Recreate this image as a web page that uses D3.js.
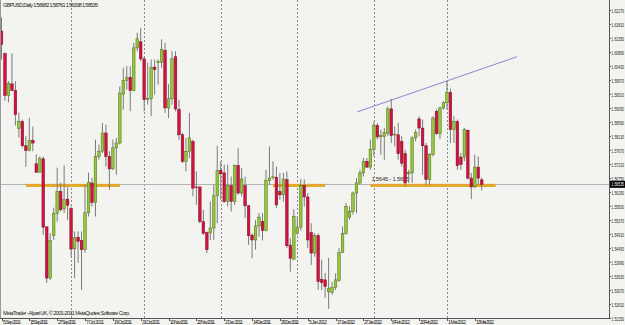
<!DOCTYPE html>
<html lang="en">
<head>
<meta charset="utf-8">
<title>GBPUSD Daily</title>
<script src="https://cdn.jsdelivr.net/npm/d3@7"></script>
<style>
  html, body { margin: 0; padding: 0; background: #f3f3ef; }
  svg { display: block; font-family: "Liberation Sans", Arial, sans-serif; }
</style>
</head>
<body>
<svg id="chart" width="625" height="325"></svg>
<script>
// daily bars, GBPUSD, 5 Sep 2011 .. 15 Mar 2012
const open = [1.6156,1.6082,1.5945,1.5983,1.5962,1.5836,1.5859,1.5780,1.5764,1.5798,
  1.5721,1.5693,1.5737,1.5514,1.5346,1.5485,1.5557,1.5630,1.5573,1.5605,
  1.5574,1.5442,1.5480,1.5469,1.5439,1.5560,1.5658,1.5594,1.5745,1.5762,
  1.5822,1.5745,1.5704,1.5773,1.5789,1.5948,1.5994,1.6005,1.5961,1.6101,
  1.6121,1.6065,1.5931,1.5934,1.6038,1.6053,1.6054,1.6093,1.5904,1.5934,
  1.6072,1.5899,1.5816,1.5729,1.5762,1.5794,1.5645,1.5645,1.5531,1.5495,
  1.5494,1.5510,1.5616,1.5699,1.5691,1.5597,1.5649,1.5597,1.5715,1.5625,
  1.5649,1.5583,1.5487,1.5471,1.5517,1.5531,1.5502,1.5666,1.5677,1.5677,
  1.5630,1.5619,1.5669,1.5454,1.5408,1.5493,1.5513,1.5649,1.5612,1.5495,
  1.5428,1.5485,1.5342,1.5340,1.5301,1.5298,1.5316,1.5338,1.5430,1.5493,
  1.5546,1.5564,1.5625,1.5658,1.5691,1.5729,1.5710,1.5767,1.5847,1.5809,
  1.5810,1.5820,1.5901,1.5816,1.5816,1.5794,1.5754,1.5688,1.5691,1.5806,
  1.5868,1.5838,1.5780,1.5669,1.5751,1.5893,1.5820,1.5904,1.5921,1.5955,
  1.5833,1.5860,1.5743,1.5743,1.5831,1.5674,1.5645,1.5710,1.56682];
const high = [1.6201,1.6086,1.5992,1.6083,1.5992,1.5889,1.5866,1.5811,1.5872,1.5843,
  1.5751,1.5745,1.5744,1.5515,1.5494,1.5577,1.5708,1.5659,1.5716,1.5646,
  1.5581,1.5499,1.5499,1.5499,1.5652,1.5692,1.5675,1.5800,1.5784,1.5855,
  1.5849,1.5762,1.5800,1.5806,1.5975,1.6036,1.6041,1.6041,1.6118,1.6151,
  1.6167,1.6074,1.6053,1.6063,1.6063,1.6063,1.6129,1.6118,1.5983,1.6090,
  1.6090,1.5931,1.5822,1.5806,1.5888,1.5800,1.5696,1.5646,1.5570,1.5499,
  1.5597,1.5652,1.5780,1.5729,1.5718,1.5718,1.5679,1.5718,1.5773,1.5707,
  1.5679,1.5586,1.5493,1.5537,1.5559,1.5559,1.5701,1.5778,1.5729,1.5712,
  1.5691,1.5691,1.5696,1.5477,1.5572,1.5548,1.5671,1.5669,1.5625,1.5526,
  1.5493,1.5493,1.5406,1.5363,1.5412,1.5334,1.5362,1.5444,1.5515,1.5592,
  1.5581,1.5630,1.5674,1.5701,1.5740,1.5740,1.5800,1.5860,1.5855,1.5833,
  1.5839,1.5909,1.5934,1.5844,1.5855,1.5811,1.5767,1.5701,1.5811,1.5833,
  1.5877,1.5866,1.5789,1.5756,1.5877,1.5899,1.5909,1.5926,1.5992,1.5967,
  1.5877,1.5866,1.5756,1.5838,1.5833,1.5691,1.5751,1.5745,1.56761];
const low = [1.6063,1.5928,1.5922,1.5959,1.5846,1.5807,1.5774,1.5711,1.5762,1.5762,
  1.5692,1.5692,1.5488,1.5330,1.5340,1.5471,1.5531,1.5564,1.5559,1.5537,
  1.5416,1.5346,1.5396,1.5307,1.5429,1.5548,1.5581,1.5548,1.5734,1.5756,
  1.5712,1.5636,1.5701,1.5685,1.5784,1.5899,1.5964,1.5893,1.5959,1.6090,
  1.6057,1.5893,1.5915,1.5877,1.5948,1.5981,1.6036,1.5888,1.5871,1.5915,
  1.5893,1.5800,1.5723,1.5696,1.5740,1.5614,1.5586,1.5526,1.5488,1.5428,
  1.5471,1.5471,1.5526,1.5603,1.5592,1.5581,1.5564,1.5586,1.5619,1.5614,
  1.5543,1.5455,1.5411,1.5439,1.5482,1.5469,1.5499,1.5652,1.5669,1.5575,
  1.5603,1.5597,1.5444,1.5367,1.5406,1.5488,1.5502,1.5581,1.5445,1.5389,
  1.5416,1.5307,1.5307,1.5281,1.5245,1.5291,1.5307,1.5334,1.5428,1.5488,
  1.5537,1.5554,1.5559,1.5652,1.5679,1.5707,1.5701,1.5745,1.5800,1.5751,
  1.5734,1.5811,1.5789,1.5778,1.5734,1.5712,1.5647,1.5658,1.5658,1.5794,
  1.5811,1.5685,1.5652,1.5652,1.5745,1.5816,1.5802,1.5899,1.5899,1.5789,
  1.5789,1.5701,1.5701,1.5729,1.5669,1.5605,1.5641,1.5652,1.56338];
const close = [1.6112,1.5945,1.5984,1.5962,1.5882,1.5859,1.5780,1.5764,1.5798,1.5789,
  1.5693,1.5738,1.5513,1.5346,1.5469,1.5557,1.5630,1.5570,1.5603,1.5585,
  1.5441,1.5478,1.5466,1.5439,1.5560,1.5659,1.5594,1.5745,1.5762,1.5822,
  1.5745,1.5704,1.5773,1.5789,1.5953,1.5994,1.6003,1.5961,1.6101,1.6131,
  1.6065,1.5931,1.5936,1.6038,1.6030,1.6056,1.6096,1.5904,1.5934,1.6065,
  1.5901,1.5816,1.5729,1.5762,1.5806,1.5641,1.5643,1.5531,1.5493,1.5439,
  1.5510,1.5616,1.5699,1.5688,1.5597,1.5649,1.5597,1.5715,1.5625,1.5671,
  1.5583,1.5485,1.5471,1.5517,1.5546,1.5502,1.5666,1.5674,1.5678,1.5586,
  1.5619,1.5671,1.5452,1.5411,1.5548,1.5513,1.5649,1.5612,1.5471,1.5428,
  1.5485,1.5334,1.5331,1.5318,1.5313,1.5316,1.5340,1.5430,1.5493,1.5581,
  1.5564,1.5625,1.5658,1.5691,1.5729,1.5710,1.5769,1.5847,1.5809,1.5813,
  1.5823,1.5901,1.5813,1.5818,1.5754,1.5723,1.5658,1.5693,1.5806,1.5824,
  1.5838,1.5780,1.5669,1.5751,1.5871,1.5820,1.5904,1.5921,1.5955,1.5833,
  1.5860,1.5715,1.5718,1.5833,1.5674,1.5645,1.5710,1.5674,1.56535];

const priceTicks = [1.62270,1.61810,1.61350,1.60890,1.60430,1.59970,1.59510,1.59050,
  1.58590,1.58130,1.57670,1.57210,1.56750,1.56290,1.55830,1.55370,1.54910,1.54450,
  1.53990,1.53530,1.53070,1.52610,1.52150];
const dateTicks = ["5 Sep 2011","15 Sep 2011","27 Sep 2011","7 Oct 2011","19 Oct 2011",
  "31 Oct 2011","10 Nov 2011","22 Nov 2011","2 Dec 2011","14 Dec 2011","26 Dec 2011",
  "5 Jan 2012","17 Jan 2012","27 Jan 2012","8 Feb 2012","20 Feb 2012","1 Mar 2012","13 Mar 2012"];

// support zone 1.5645 - 1.5655, drawn over these bar ranges
const zoneLow = 1.5645, zoneHigh = 1.5655;
const zoneBars = [[7, 34], [78, 93], [106, 142]];
// trend line through the highs: [bar index, price]
const trendLine = [[102.2, 1.5891], [148.1, 1.6072]];

const headerText = "GBPUSD,Daily  1.56682 1.56761 1.56338 1.56535";
const footerText = "MetaTrader - Alpari UK, \u00a9 2001-2011 MetaQuotes Software Corp.";

// bar dates: trading weekdays from 5 Sep 2011
const barDates = [];
for (let d = new Date(2011, 8, 5); barDates.length < close.length; d = d3.timeDay.offset(d, 1)) {
  if (d.getDay() !== 0 && d.getDay() !== 6) barDates.push(d);
}
const fmt = d3.timeFormat("%-d %b %Y");
const bars = close.map((c, i) => ({ i, date: barDates[i], o: open[i], h: high[i], l: low[i], c }));

const W = 625, H = 325;
const plotRight = 609, plotBottom = 318;

const svg = d3.select("#chart");
const x = d3.scaleLinear().domain([0, bars.length - 1]).range([1.5, 1.5 + 3.48 * (bars.length - 1)]);
const y = d3.scaleLinear().domain([priceTicks[priceTicks.length - 1], priceTicks[0]]).range([plotBottom, 9.5]);

svg.append("rect").attr("width", W).attr("height", H).attr("fill", "#f3f3ef");

// monthly separators
const sepIdx = bars.filter((b, i) => i > 0 && b.date.getMonth() !== bars[i - 1].date.getMonth()).map(b => b.i);
svg.append("g").selectAll("line").data(sepIdx).join("line")
  .attr("x1", d => Math.round(x(d)) + 0.5).attr("x2", d => Math.round(x(d)) + 0.5)
  .attr("y1", 0).attr("y2", plotBottom)
  .attr("stroke", "#8a8a8a").attr("stroke-width", 1).attr("stroke-dasharray", "2,2");

// current price line
const last = close[close.length - 1];
svg.append("line")
  .attr("x1", 0).attr("x2", plotRight)
  .attr("y1", Math.round(y(last)) + 0.5).attr("y2", Math.round(y(last)) + 0.5)
  .attr("stroke", "#b4b4b4").attr("stroke-width", 1);

// zone
svg.append("g").selectAll("rect").data(zoneBars).join("rect")
  .attr("x", d => x(d[0])).attr("width", d => x(d[1]) - x(d[0]))
  .attr("y", y(zoneHigh)).attr("height", y(zoneLow) - y(zoneHigh))
  .attr("fill", "#e3a52c");

svg.append("text")
  .attr("x", x(zoneBars[2][0]) + 1).attr("y", y(zoneHigh) - 2.5)
  .attr("font-size", 6).attr("fill", "#333").attr("textLength", 38)
  .text("1.5645 - 1.5655");

// trend line
svg.append("line")
  .attr("x1", x(trendLine[0][0])).attr("y1", y(trendLine[0][1]))
  .attr("x2", x(trendLine[1][0])).attr("y2", y(trendLine[1][1]))
  .attr("stroke", "#8a86d6").attr("stroke-width", 1);

// candles
const g = svg.append("g");
g.selectAll("line.wick").data(bars).join("line")
  .attr("class", "wick")
  .attr("x1", d => x(d.i)).attr("x2", d => x(d.i))
  .attr("y1", d => y(d.h)).attr("y2", d => y(d.l))
  .attr("stroke", "#7a7a7a").attr("stroke-width", 1);
g.selectAll("rect.body").data(bars).join("rect")
  .attr("class", "body")
  .attr("x", d => x(d.i) - 1.3).attr("width", 2.6)
  .attr("y", d => y(Math.max(d.o, d.c)))
  .attr("height", d => Math.max(0.8, Math.abs(y(d.o) - y(d.c))))
  .attr("fill", d => d.c >= d.o ? "#94c53a" : "#d3133f")
  .attr("stroke", d => d.c >= d.o ? "#4c7018" : "#7a0a22")
  .attr("stroke-width", 0.5);

// axes frame
svg.append("line").attr("x1", plotRight + 0.5).attr("x2", plotRight + 0.5).attr("y1", 0).attr("y2", plotBottom + 0.5)
  .attr("stroke", "#555");
svg.append("line").attr("x1", 0).attr("x2", plotRight + 0.5).attr("y1", plotBottom + 0.5).attr("y2", plotBottom + 0.5)
  .attr("stroke", "#555");
svg.append("line").attr("x1", 0.5).attr("x2", 0.5).attr("y1", 0).attr("y2", plotBottom)
  .attr("stroke", "#999");

// price axis (labels squeezed into the narrow strip right of the frame)
const yAxis = svg.append("g").attr("font-size", 5.5).attr("fill", "#222");
priceTicks.forEach(p => {
  const yy = Math.round(y(p)) + 0.5;
  yAxis.append("line").attr("x1", plotRight).attr("x2", plotRight + 2).attr("y1", yy).attr("y2", yy).attr("stroke", "#555");
  yAxis.append("text").attr("x", plotRight + 2.5).attr("y", yy + 2)
    .attr("textLength", 12.5).attr("lengthAdjust", "spacingAndGlyphs").text(p.toFixed(5));
});
const ly = y(last);
svg.append("rect").attr("x", plotRight + 1).attr("y", ly - 3.5).attr("width", W - plotRight).attr("height", 7).attr("fill", "#000");
svg.append("text").attr("x", plotRight + 2.5).attr("y", ly + 2).attr("font-size", 5.5).attr("fill", "#fff")
  .attr("textLength", 12.5).attr("lengthAdjust", "spacingAndGlyphs").text(last.toFixed(5));

// date axis
const tickBars = bars.filter(b => dateTicks.includes(fmt(b.date)));
const xAxis = svg.append("g").attr("font-size", 5).attr("fill", "#222");
tickBars.forEach(b => {
  const xx = Math.round(x(b.i)) + 0.5;
  xAxis.append("line").attr("x1", xx).attr("x2", xx).attr("y1", plotBottom).attr("y2", plotBottom + 3).attr("stroke", "#555");
  xAxis.append("text").attr("x", xx + 0.5).attr("y", 324).attr("textLength", 18).text(fmt(b.date));
});

// header and footer
svg.append("text").attr("x", 3).attr("y", 7).attr("font-size", 5.5).attr("fill", "#222")
  .attr("textLength", 95).text(headerText);
svg.append("text").attr("x", 3).attr("y", 315).attr("font-size", 5.5).attr("fill", "#222")
  .attr("textLength", 127).text(footerText);
</script>
</body>
</html>
